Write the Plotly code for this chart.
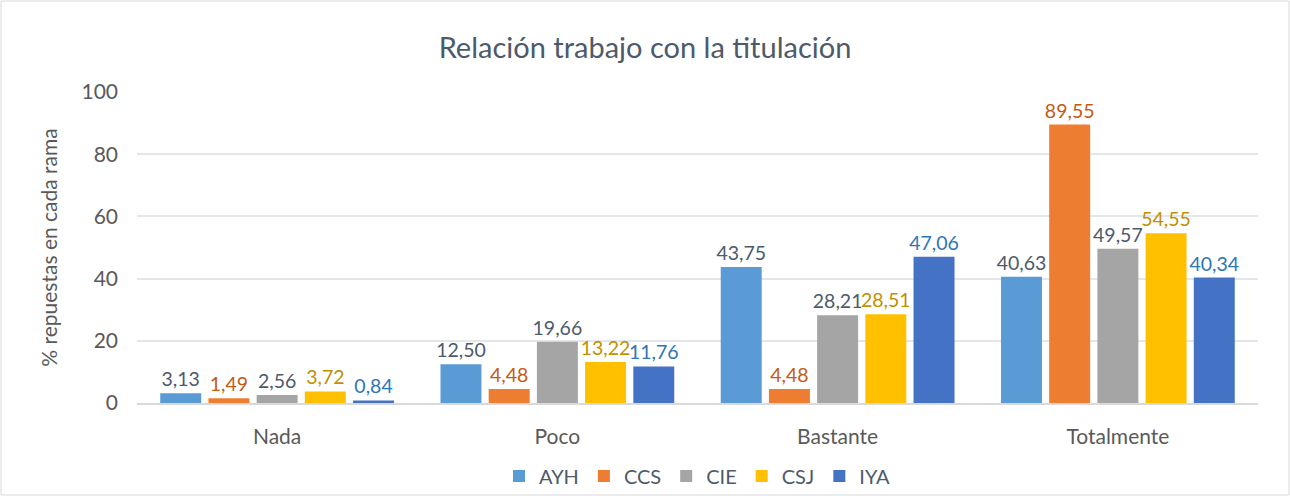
import plotly.graph_objects as go

categories = ["Nada", "Poco", "Bastante", "Totalmente"]
series_names = ["AYH", "CCS", "CIE", "CSJ", "IYA"]
ayh = [3.13, 12.50, 43.75, 40.63]
ccs = [1.49, 4.48, 4.48, 89.55]
cie = [2.56, 19.66, 28.21, 49.57]
csj = [3.72, 13.22, 28.51, 54.55]
iya = [0.84, 11.76, 47.06, 40.34]
y_ticks = [0, 20, 40, 60, 80, 100]

values = [ayh, ccs, cie, csj, iya]
bar_colors = ["#5B9BD5", "#ED7D31", "#A5A5A5", "#FFC000", "#4472C4"]
label_colors = ["#4D5A6B", "#C55A11", "#4D5A6B", "#BF9000", "#2E75B6"]

FONT = "Lato"
fig = go.Figure()
for name, vals, c, tc in zip(series_names, values, bar_colors, label_colors):
    fig.add_trace(go.Bar(
        name=name, x=categories, y=vals,
        marker=dict(color=c, line=dict(width=0)),
        text=[f"{v:.2f}".replace(".", ",") for v in vals],
        textposition="outside", constraintext="none",
        textfont=dict(family=FONT, size=19.5, color=tc),
        cliponaxis=False,
    ))

W, H = 1290, 496
L, R, T, B = 137, 32, 92, 93
pw, ph = W - L - R, H - T - B

fig.update_layout(
    width=W, height=H,
    margin=dict(l=L, r=R, t=T, b=B, autoexpand=False),
    paper_bgcolor="white", plot_bgcolor="white",
    barmode="group", bargap=0.14, bargroupgap=0.15,
    uniformtext=dict(mode=False),
    title=dict(text="Relación trabajo con la titulación", x=0.5, xanchor="center",
               y=1 - 48 / H, yanchor="middle",
               font=dict(family=FONT, size=29, color="#4D5A6B")),
    font=dict(family=FONT, color="#595959"),
    legend=dict(orientation="h", x=0.5, xanchor="center", y=-(476 - 403) / ph, yanchor="middle",
                font=dict(family=FONT, size=20, color="#4D5A6B"),
                bgcolor="rgba(0,0,0,0)",
                itemwidth=30, traceorder="normal"),
    xaxis=dict(showgrid=False, showline=True, linecolor="#D9D9D9", linewidth=1.5,
               ticks="", automargin=False, ticklabelstandoff=14,
               tickfont=dict(family=FONT, size=21, color="#595959")),
    yaxis=dict(range=[0, 100], tickvals=y_ticks, showgrid=True, gridcolor="#E3E6EA", gridwidth=1.5,
               zeroline=False, showline=False, ticks="", ticklen=0, automargin=False,
               ticklabelstandoff=18,
               tickfont=dict(family=FONT, size=21, color="#595959"),
               title=dict(text="% repuestas en cada rama", standoff=18,
                          font=dict(family=FONT, size=21, color="#595959"))),
)

fig.add_shape(type="rect", xref="paper", yref="paper",
              x0=(1 - L) / pw, x1=(W - 1 - L) / pw,
              y0=-(H - 1 - T - ph) / ph, y1=1 + (T - 1) / ph,
              line=dict(color="#D9D9D9", width=1), layer="below")

fig.write_html("out.html", config={"displayModeBar": False},
               post_script="document.body.style.margin='0px';document.body.style.overflow='hidden';")
